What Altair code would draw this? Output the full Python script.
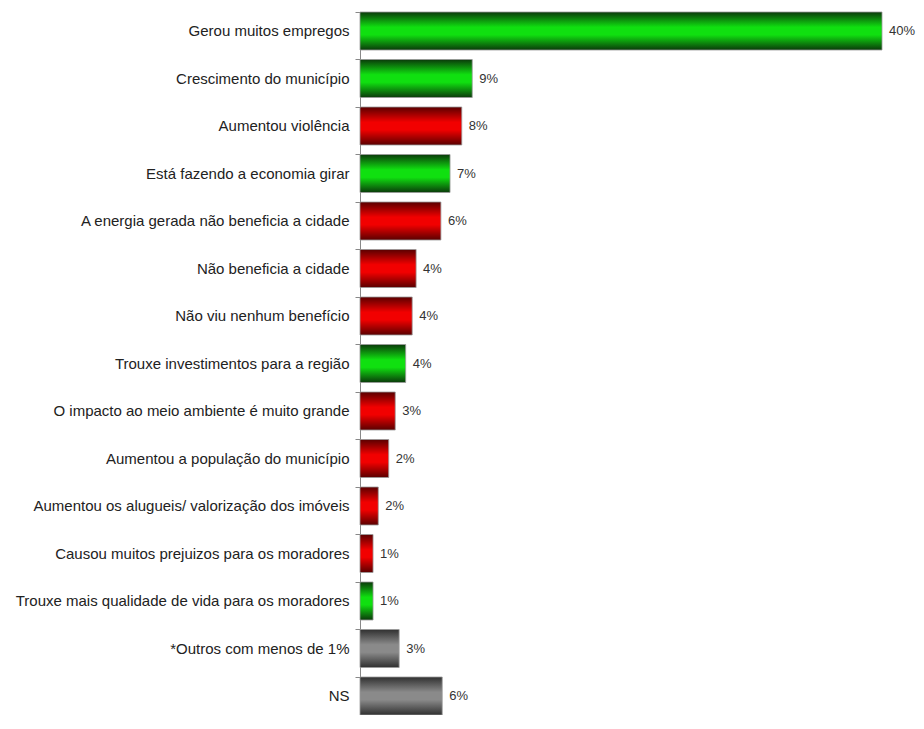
import altair as alt
import pandas as pd

categories = [
    "Gerou muitos empregos",
    "Crescimento do município",
    "Aumentou violência",
    "Está fazendo a economia girar",
    "A energia gerada não beneficia a cidade",
    "Não beneficia a cidade",
    "Não viu nenhum benefício",
    "Trouxe investimentos para a região",
    "O impacto ao meio ambiente é muito grande",
    "Aumentou a população do município",
    "Aumentou os alugueis/ valorização dos imóveis",
    "Causou muitos prejuizos para os moradores",
    "Trouxe mais qualidade de vida para os moradores",
    "*Outros com menos de 1%",
    "NS",
]
values = [40.0, 8.6, 7.8, 6.9, 6.2, 4.3, 4.0, 3.5, 2.7, 2.2, 1.4, 1.0, 1.0, 3.0, 6.3]
labels = ["40%", "9%", "8%", "7%", "6%", "4%", "4%", "4%", "3%", "2%", "2%", "1%", "1%", "3%", "6%"]
groups = ["pos", "pos", "neg", "pos", "neg", "neg", "neg", "pos", "neg", "neg", "neg", "neg", "pos", "other", "other"]

df = pd.DataFrame({"cat": categories, "value": values, "label": labels, "group": groups})

def grad(edge, mid):
    return alt.Gradient(
        gradient="linear", x1=0, x2=0, y1=0, y2=1,
        stops=[
            alt.GradientStop(offset=0, color=edge),
            alt.GradientStop(offset=0.4, color=mid),
            alt.GradientStop(offset=0.6, color=mid),
            alt.GradientStop(offset=1, color=edge),
        ],
    )

colors = {
    "pos": grad("#0a3a0a", "#10e010"),
    "neg": grad("#5a0000", "#f20000"),
    "other": grad("#303030", "#8a8a8a"),
}

y_enc = alt.Y(
    "cat:N", sort=categories, title=None,
    scale=alt.Scale(domain=categories, paddingInner=0.2, paddingOuter=0, range=[4, 707]),
    axis=alt.Axis(
        labelFont="Liberation Sans", labelFontSize=15, labelColor="#222222",
        labelPadding=6, labelLimit=400,
        domainColor="#888888", tickColor="#888888", tickSize=5,
        bandPosition=0, grid=False,
    ),
)
x_enc = alt.X("value:Q", title=None, axis=None, scale=alt.Scale(domain=[0, 40], nice=False))

layers = []
for g, c in colors.items():
    layers.append(
        alt.Chart(df).transform_filter(alt.datum.group == g)
        .mark_bar(color=c, stroke="#9a9a9a", strokeWidth=0.8)
        .encode(x=x_enc, y=y_enc)
    )

text = alt.Chart(df).mark_text(
    align="left", baseline="middle", dx=7,
    font="Liberation Sans", fontSize=13, color="#333333",
).encode(x=x_enc, y=y_enc, text="label:N")

chart = alt.layer(*layers, text).properties(
    width=522, height=707,
    autosize=alt.AutoSizeParams(type="none"),
    padding={"left": 352, "top": 0, "right": 34, "bottom": 0},
).configure_view(stroke=None)

chart.save("out.html", embed_options={"renderer": "svg", "actions": False})
